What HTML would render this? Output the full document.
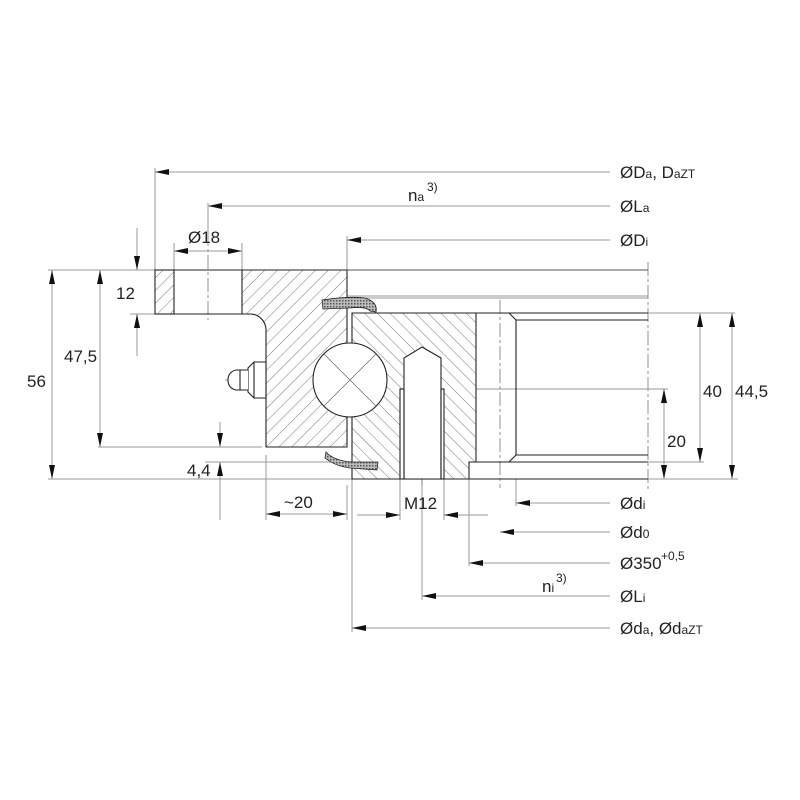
<!DOCTYPE html>
<html><head><meta charset="utf-8"><style>
html,body{margin:0;padding:0;background:#fff}
svg{display:block}
text{font-family:"Liberation Sans","DejaVu Sans",sans-serif;font-size:17px;fill:#222}
.s{font-size:12px}
</style></head><body>
<svg width="800" height="800" viewBox="0 0 800 800" xmlns="http://www.w3.org/2000/svg">
<defs>
<pattern id="h1" patternUnits="userSpaceOnUse" width="9" height="9" patternTransform="rotate(45)">
<rect width="9" height="9" fill="#fff"/><line x1="0" y1="0" x2="0" y2="9" stroke="#555" stroke-width="0.8"/></pattern>
<pattern id="h2" patternUnits="userSpaceOnUse" width="9" height="9" patternTransform="rotate(-45)">
<rect width="9" height="9" fill="#fff"/><line x1="0" y1="0" x2="0" y2="9" stroke="#555" stroke-width="0.8"/></pattern>
<pattern id="dots" patternUnits="userSpaceOnUse" width="3" height="3">
<rect width="3" height="3" fill="#bbb"/><rect width="1.5" height="1.5" fill="#555"/></pattern>
<marker id="a" viewBox="0 0 14 6" refX="14" refY="3" markerWidth="14" markerHeight="6" orient="auto-start-reverse" markerUnits="userSpaceOnUse">
<path d="M14,3 L0,0 L0,6 Z" fill="#111"/></marker>
</defs>
<g stroke="#999" stroke-width="1" fill="none">
<line x1="155" y1="168" x2="155" y2="270"/>
<line x1="208" y1="203" x2="208" y2="232"/>
<line x1="347" y1="236" x2="347" y2="270"/>
<line x1="174" y1="243" x2="174" y2="270"/>
<line x1="242" y1="243" x2="242" y2="270"/>
<line x1="48" y1="270" x2="155" y2="270"/>
<line x1="130" y1="314" x2="155" y2="314"/>
<line x1="98" y1="447" x2="262" y2="447"/>
<line x1="48" y1="479" x2="352" y2="479"/>
<line x1="205" y1="462" x2="352" y2="462"/>
<line x1="266" y1="455" x2="266" y2="520"/>
<line x1="347" y1="485" x2="347" y2="520"/>
<line x1="352" y1="479" x2="352" y2="632"/>
<line x1="400" y1="479" x2="400" y2="520"/>
<line x1="444" y1="479" x2="444" y2="520"/>
<line x1="469" y1="479" x2="469" y2="566"/>
<line x1="516" y1="479" x2="516" y2="506"/>
<line x1="422" y1="479" x2="422" y2="600"/>
<line x1="476" y1="313" x2="735" y2="313"/>
<line x1="465" y1="389" x2="668" y2="389"/>
<line x1="469" y1="462" x2="704" y2="462"/>
<line x1="352" y1="479" x2="738" y2="479"/>
<line x1="347" y1="296" x2="648" y2="296"/>
<line x1="347" y1="298" x2="648" y2="298"/>
<line x1="155" y1="172" x2="610" y2="172" marker-start="url(#a)"/>
<line x1="208" y1="206" x2="610" y2="206" marker-start="url(#a)"/>
<line x1="347" y1="240" x2="610" y2="240" marker-start="url(#a)"/>
<line x1="174" y1="251" x2="242" y2="251" marker-start="url(#a)" marker-end="url(#a)"/>
<line x1="137" y1="228" x2="137" y2="270" marker-end="url(#a)"/>
<line x1="137" y1="356" x2="137" y2="314" marker-end="url(#a)"/>
<line x1="100" y1="270" x2="100" y2="447" marker-start="url(#a)" marker-end="url(#a)"/>
<line x1="52" y1="270" x2="52" y2="479" marker-start="url(#a)" marker-end="url(#a)"/>
<line x1="220" y1="422" x2="220" y2="447" marker-end="url(#a)"/>
<line x1="220" y1="520" x2="220" y2="462" marker-end="url(#a)"/>
<line x1="266" y1="514" x2="347" y2="514" marker-start="url(#a)" marker-end="url(#a)"/>
<line x1="357" y1="515" x2="400" y2="515" marker-end="url(#a)"/>
<line x1="488" y1="515" x2="444" y2="515" marker-end="url(#a)"/>
<line x1="516" y1="503" x2="610" y2="503" marker-start="url(#a)"/>
<line x1="500" y1="532" x2="610" y2="532" marker-start="url(#a)"/>
<line x1="469" y1="563" x2="610" y2="563" marker-start="url(#a)"/>
<line x1="422" y1="596" x2="610" y2="596" marker-start="url(#a)"/>
<line x1="352" y1="628" x2="610" y2="628" marker-start="url(#a)"/>
<line x1="664" y1="389" x2="664" y2="479" marker-start="url(#a)" marker-end="url(#a)"/>
<line x1="700" y1="313" x2="700" y2="462" marker-start="url(#a)" marker-end="url(#a)"/>
<line x1="732" y1="313" x2="732" y2="479" marker-start="url(#a)" marker-end="url(#a)"/>
</g>
<g stroke="#777" stroke-width="0.8" fill="none" stroke-dasharray="14,3,3,3">
<line x1="208" y1="232" x2="208" y2="320"/>
<line x1="422" y1="335" x2="422" y2="485"/>
<line x1="500" y1="300" x2="500" y2="488"/>
<line x1="648" y1="262" x2="648" y2="490"/>
<line x1="225" y1="380" x2="395" y2="380"/>
</g>
<g stroke="#222" stroke-width="1.1">
<rect x="155" y="270" width="19" height="44" fill="url(#h1)"/>
<path d="M242,270 H347 V447 H266 V330 A16,16 0 0 0 250,314 H242 Z" fill="url(#h1)"/>
<line x1="347" y1="270" x2="648" y2="270" stroke="#555"/>
<line x1="174" y1="270" x2="242" y2="270"/>
<line x1="174" y1="314" x2="242" y2="314"/>
<path d="M352,313 H476 V462 H469 V479 H352 Z" fill="url(#h2)"/>
<rect x="400" y="389" width="44" height="90" fill="#fff"/>
<path d="M404,479 V358 L422,347 L441,358 V479" fill="#fff"/>
<line x1="404" y1="389" x2="404" y2="479"/>
<line x1="441" y1="389" x2="441" y2="479"/>
<line x1="476" y1="313" x2="648" y2="313"/>
<path d="M509,313 L516,320 H648 M516,320 V455 H648 M509,462 L516,455" fill="none"/>
<line x1="469" y1="462" x2="648" y2="462"/>
<line x1="352" y1="479" x2="648" y2="479"/>
<circle cx="350" cy="380" r="37" fill="#fff"/>
<path d="M322,300 Q350,296 365,298 Q378,302 376,312 L370,311 Q366,306 350,308 L323,309 Z" fill="url(#dots)" stroke-width="0.8"/>
<path d="M326,452 Q333,460 350,462 L378,462 L377,470 L350,468 Q335,466 325,458 Z" fill="url(#dots)" stroke-width="0.8"/>
<path d="M254,362 H266 V398 H254 Z M254,362 L248,368 V392 L254,398" fill="#fff"/>
<path d="M248,370 H236 Q228,372 228,380 Q228,388 236,390 H248" fill="#fff"/>
<line x1="240" y1="370" x2="240" y2="390"/>
</g>
<g stroke="#666" stroke-width="0.7">
<line x1="324" y1="354" x2="376" y2="406"/><line x1="376" y1="354" x2="324" y2="406"/>
</g>
<text x="620" y="178">ØD<tspan class="s">a</tspan>, D<tspan class="s">aZT</tspan></text>
<text x="620" y="212">ØL<tspan class="s">a</tspan></text>
<text x="620" y="246">ØD<tspan class="s">i</tspan></text>
<text x="408" y="201">n<tspan class="s">a</tspan></text><text x="427" y="191" class="s">3)</text>
<text x="188" y="243">Ø18</text>
<text x="116" y="299">12</text>
<text x="64" y="362">47,5</text>
<text x="27" y="387">56</text>
<text x="187" y="476">4,4</text>
<text x="284" y="508">~20</text>
<text x="404" y="509">M12</text>
<text x="620" y="509">Ød<tspan class="s">i</tspan></text>
<text x="620" y="538">Ød<tspan class="s">0</tspan></text>
<text x="620" y="569">Ø350</text><text x="661" y="560" class="s">+0,5</text>
<text x="542" y="592">n<tspan class="s">i</tspan></text><text x="556" y="582" class="s">3)</text>
<text x="620" y="602">ØL<tspan class="s">i</tspan></text>
<text x="620" y="634">Ød<tspan class="s">a</tspan>, Ød<tspan class="s">aZT</tspan></text>
<text x="667" y="447">20</text>
<text x="703" y="397">40</text>
<text x="735" y="397">44,5</text>
</svg>
</body></html>
